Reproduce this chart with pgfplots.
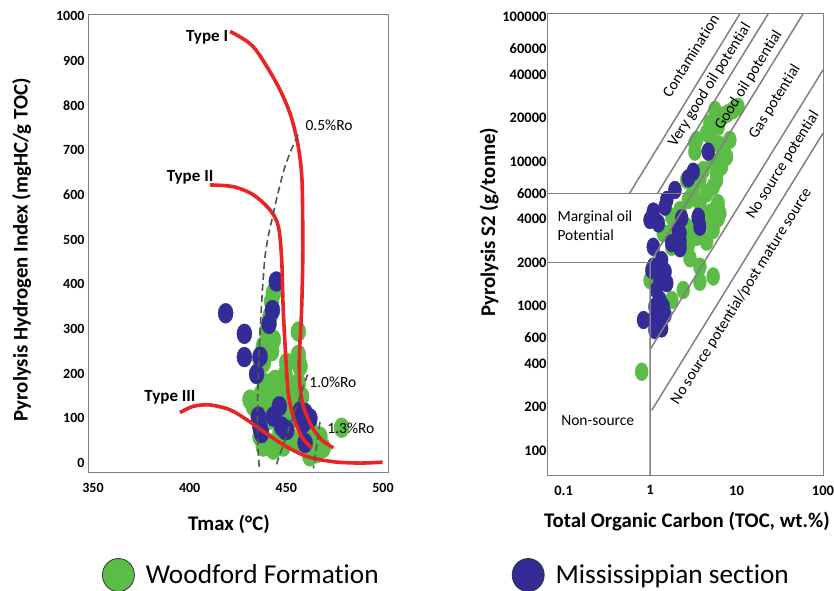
\documentclass[border=0pt]{standalone}
\usepackage{fontspec}
\setmainfont{Carlito}[Ligatures={NoCommon}]
\usepackage{pgfplots}
\pgfplotsset{compat=1.18}
\definecolor{wgreen}{RGB}{92,189,70}
\definecolor{mblue}{RGB}{52,44,150}
\definecolor{cred}{RGB}{232,36,36}
\definecolor{lgray}{RGB}{128,128,128}
\definecolor{dgray}{RGB}{85,85,85}
\begin{document}
\begin{tikzpicture}[x=1pt,y=1pt]
\path[use as bounding box] (0,0) rectangle (834,590);
% ---------------- left: HI vs Tmax ----------------
\begin{axis}[
  at={(88pt,118pt)}, anchor=south west,
  scale only axis, width=300pt, height=457pt,
  xmin=347.4, xmax=502.6, ymin=-20, ymax=1002,
  xtick={350,400,450,500}, ytick={0,100,...,1000},
  axis line style={lgray, line width=1pt},
  major tick length=0pt, minor tick length=0pt,
  /pgf/number format/assume math mode=true,
  /pgf/number format/1000 sep={},
  ticklabel style={font=\fontsize{14}{16}\selectfont\bfseries},
  xticklabel style={yshift=-8pt},
  xlabel={Tmax (°C)}, ylabel={Pyrolysis Hydrogen Index (mgHC/g TOC)},
  label style={font=\fontsize{20.8}{24}\selectfont\bfseries},
  xlabel style={at={(axis description cs:0.47,-0.114)}, anchor=center},
  ylabel style={at={(axis description cs:-0.221,0.486)}, anchor=center},
  clip=false, clip marker paths=true,
  legend columns=2,
  legend style={at={(axis description cs:0.0467,-0.2254)}, anchor=west,
    draw=none, fill=none, inner sep=0pt, outer sep=0pt,
    font=\fontsize{27.3}{31}\selectfont,
    /tikz/every odd column/.append style={column sep=9pt},
    /tikz/every even column/.append style={column sep=131pt}},
  legend cell align=left,
]
\addlegendimage{legend image code/.code={\draw[black!80, line width=0.8pt, fill=wgreen] (16pt,0pt) ellipse [x radius=16pt, y radius=16.5pt];}}
\addlegendentry{Woodford Formation}
\addlegendimage{legend image code/.code={\draw[black!80, line width=0.8pt, fill=mblue] (16pt,0pt) ellipse [x radius=16pt, y radius=16.5pt];}}
\addlegendentry{Mississippian section}
% Woodford
\addplot[only marks, mark=*, mark size=7.5pt, mark options={fill=wgreen, draw=wgreen, yscale=1.33}, forget plot] coordinates {
(443.3,380)(442.4,361)(441.6,328)(439.8,294)(443.3,276)(438.1,261)(436.4,231)(442.4,250)
(456.2,294)(456.2,242)(457.1,216)(450.2,224)(449.3,197)(444.1,186)(439,179)(437.2,156)
(431.2,142)(441.6,149)(446.7,156)(452.8,171)(456.2,179)(457.9,149)(454.5,142)(451,127)
(443.3,119)(439.8,134)(441.6,97)(438.1,89)(451.9,97)(455.3,104)(446.7,67)(451.9,59)
(440.7,45)(438.1,37)(443.3,30)(455.3,45)(460.5,52)(467.4,59)(469.1,34)(465.6,22)
(462.2,15)(478.6,79)(432.9,127)(462.2,82)(464.8,48)(448.4,37)(436.4,59)(438.1,224)
};
% Mississippian
\addplot[only marks, mark=*, mark size=7.5pt, mark options={fill=mblue, draw=mblue, yscale=1.33}, forget plot] coordinates {
(418.6,335)(428.3,289)(428.3,237)(444.8,406)(442.8,342)(441,311)(434.6,199)(436.4,238)
(446.4,127)(443.3,104)(449.3,74)(437.2,67)(462.2,100)(458.8,89)(435.5,104)(436.4,80)
(459.7,45)(447.6,82)(457.1,115)(450.2,74)(459.7,112)
};
% kerogen type curves
\addplot[cred, line width=3.6pt, smooth, forget plot] coordinates {
(420.9,965)(432.9,931)(445.0,849)(451.9,782)(455.9,715)(457.9,648)(458.4,574)(458.5,455)
(457.9,343)(456.7,231)(457.1,171)(458.8,127)(463.1,82)(468.3,52)(474.3,34)};
\addplot[cred, line width=3.6pt, smooth, forget plot] coordinates {
(410.5,622)(422.6,618)(432.9,600)(441.6,566)(445.9,529)(447.6,455)(448.4,343)(449.8,231)
(451,156)(453.6,104)(457.9,59)(463.1,34)};
\addplot[cred, line width=3.6pt, smooth, forget plot] coordinates {
(395,113)(401.9,127)(410.5,130)(420.9,119)(429.5,97)(438.1,71)(448.4,41)(460.5,15)
(474.3,3)(488.1,0)(499.8,2)};
% maturity (Ro) lines
\addplot[dgray, line width=1.6pt, dash pattern=on 7pt off 4pt, smooth, forget plot] coordinates {
(456,734)(449.3,663)(443.3,559)(439,462)(436.5,300)(435.2,150)(435.2,50)(436,-10)};
\addplot[dgray, line width=1.6pt, dash pattern=on 7pt off 4pt, forget plot] coordinates {
(461,198)(444.5,-8)};
\addplot[dgray, line width=1.6pt, dash pattern=on 7pt off 4pt, forget plot] coordinates {
(467.4,92)(464,-12)};
\node[font=\fontsize{17}{20}\selectfont\bfseries] at (axis cs:409,953) {Type I};
\node[font=\fontsize{17}{20}\selectfont\bfseries] at (axis cs:400.2,638) {Type II};
\node[font=\fontsize{17}{20}\selectfont\bfseries] at (axis cs:389.8,148) {Type III};
\node[font=\fontsize{15.5}{18}\selectfont] at (axis cs:472.1,756) {0.5\%Ro};
\node[font=\fontsize{15.5}{18}\selectfont] at (axis cs:474.1,180) {1.0\%Ro};
\node[font=\fontsize{15.5}{18}\selectfont] at (axis cs:483.4,77) {1.3\%Ro};
\end{axis}
% ---------------- right: S2 vs TOC ----------------
\begin{axis}[
  at={(547pt,115pt)}, anchor=south west,
  scale only axis, width=276pt, height=461pt,
  xmode=log, ymode=log,
  xmin=0.0643, xmax=100, ymin=67.7, ymax=104900,
  xtick={0.1,1,10,100}, xticklabels={0.1,1,10,100},
  ytick={100,200,400,600,1000,2000,4000,6000,10000,20000,40000,60000,100000},
  yticklabels={100,200,400,600,1000,2000,4000,6000,10000,20000,40000,60000,100000},
  axis line style={lgray, line width=1pt},
  major tick length=0pt, minor tick length=0pt,
  ticklabel style={font=\fontsize{14.5}{16}\selectfont\bfseries},
  xticklabel style={yshift=-7pt},
  yticklabel style={xshift=3pt},
  xlabel={Total Organic Carbon (TOC, wt.\%)}, ylabel={Pyrolysis S2 (g/tonne)},
  label style={font=\fontsize{20.8}{24}\selectfont\bfseries},
  xlabel style={at={(axis description cs:0.507,-0.102)}, anchor=center},
  ylabel style={at={(axis description cs:-0.210,0.548)}, anchor=center},
  clip marker paths=true,
]
\addplot[only marks, mark=*, mark size=6.5pt, mark options={fill=wgreen, draw=wgreen, yscale=1.38}] coordinates {
(10.4,23900)(8.0,21600)(5.88,19400)(4.92,18400)(5.62,22700)(7.33,21000)(9.14,22700)(6.13,17400)
(4.51,15700)(3.46,14100)(3.30,11700)(5.15,14100)(6.42,13000)(8.37,14100)(7.67,10800)(7.0,10800)
(5.37,9970)(6.71,9200)(5.88,8290)(4.12,8730)(3.77,7450)(3.46,8290)(2.65,7450)(5.88,7450)
(5.37,6700)(4.51,6030)(3.16,6350)(2.77,5420)(3.77,5140)(5.88,4870)(6.13,5140)(6.42,4390)
(4.92,4150)(2.22,4610)(1.78,4150)(2.65,3540)(2.03,3360)(3.77,3190)(5.37,3360)(1.70,3190)
(2.32,3940)(1.42,3190)(1.78,2570)(2.65,3010)(2.77,2640)(3.46,3010)(4.51,2790)(2.89,2140)
(3.77,1870)(3.77,1470)(5.37,1600)(4.92,4390)(6.13,4050)(2.42,1290)(1.78,1100)(1.0,1510)
(0.80,351)(1.09,1560)(3.30,13400)
};
\addplot[only marks, mark=*, mark size=6.5pt, mark options={fill=mblue, draw=mblue, yscale=1.38}] coordinates {
(4.70,11700)(3.16,8500)(2.77,7660)(1.94,6350)(1.56,5420)(1.49,4870)(1.09,4500)(1.25,3730)
(2.32,4050)(3.61,4050)(3.77,3540)(2.22,3190)(1.00,3940)(1.09,2570)(1.36,2080)(1.05,1770)
(1.49,1730)(1.30,1510)(1.56,1440)(1.19,1290)(1.14,990)(1.42,990)(0.84,800)(1.09,800)
(1.14,682)(1.36,700)(2.22,2790)(2.22,2510)(2.12,3360)(3.61,4150)(1.78,2720)(1.09,1870)
(1.30,1100)(1.49,870)
};
% classification boundaries
\addplot[lgray, line width=1.5pt] coordinates {(0.0643,6000)(3.09,6000)};
\addplot[lgray, line width=1.5pt] coordinates {(0.0643,2000)(1,2000)};
\addplot[lgray, line width=1.5pt] coordinates {(1,67.7)(1,2000)(58.6,104900)};
\addplot[lgray, line width=1.5pt] coordinates {(0.577,6000)(10.9,104900)};
\addplot[lgray, line width=1.5pt] coordinates {(1.214,6000)(23.2,104900)};
\addplot[lgray, line width=1.5pt] coordinates {(1,500)(100,43000)};
\addplot[lgray, line width=1.5pt] coordinates {(1.046,190)(100,15700)};
\node[font=\fontsize{15.5}{18}\selectfont, rotate=58] at (axis cs:2.95,54000) {Contamination};
\node[font=\fontsize{15.5}{18}\selectfont, rotate=58] at (axis cs:4.92,33800) {Very good oil potential};
\node[font=\fontsize{15.5}{18}\selectfont, rotate=58] at (axis cs:13.8,36600) {Good oil potential};
\node[font=\fontsize{15.5}{18}\selectfont, rotate=58] at (axis cs:27.7,25900) {Gas potential};
\node[font=\fontsize{15.5}{18}\selectfont, rotate=58] at (axis cs:34.5,9460) {No source potential};
\node[font=\fontsize{15.5}{18}\selectfont, rotate=58] at (axis cs:11.4,1165) {No source potential/post mature source};
\node[font=\fontsize{15.5}{19}\selectfont, anchor=west, align=left, inner sep=0pt] at (axis cs:0.0846,3600) {Marginal oil\\Potential};
\node[font=\fontsize{15.5}{18}\selectfont] at (axis cs:0.248,160) {Non-source};
\end{axis}
\end{tikzpicture}
\end{document}
